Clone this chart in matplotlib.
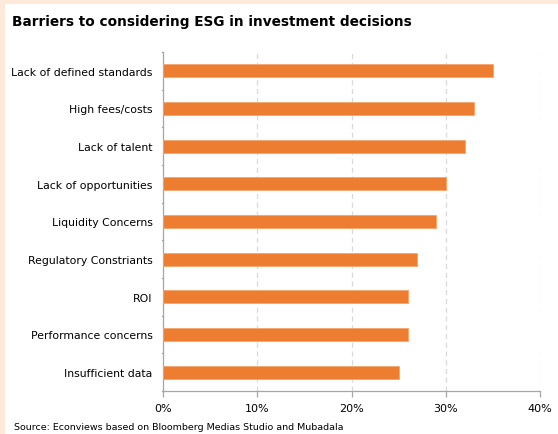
import matplotlib
matplotlib.use("Agg")
import matplotlib.pyplot as plt
from matplotlib.patches import Rectangle
import numpy as np

categories = [
    "Lack of defined standards",
    "High fees/costs",
    "Lack of talent",
    "Lack of opportunities",
    "Liquidity Concerns",
    "Regulatory Constriants",
    "ROI",
    "Performance concerns",
    "Insufficient data",
]
values = [35, 33, 32, 30, 29, 27, 26, 26, 25]
x_ticks = [0, 10, 20, 30, 40]
x_tick_labels = ["0%", "10%", "20%", "30%", "40%"]

title = "Barriers to considering ESG in investment decisions"
source = "Source: Econviews based on Bloomberg Medias Studio and Mubadala"

W, H = 558, 435
fig = plt.figure(figsize=(W / 100, H / 100), dpi=100)
fig.patch.set_facecolor("white")

# peach frame along the top and left edges
fig.patches.append(Rectangle((0, 1 - 5 / H), 1, 5 / H, transform=fig.transFigure,
                             facecolor="#FDE9D9", edgecolor="none", zorder=0))
fig.patches.append(Rectangle((0, 0), 5 / W, 1, transform=fig.transFigure,
                             facecolor="#FDE9D9", edgecolor="none", zorder=0))

left, right, top, bottom = 163, 540, 53, 392
ax = fig.add_axes([left / W, 1 - bottom / H, (right - left) / W, (bottom - top) / H])

n = len(categories)
y = np.arange(n)
ax.barh(y, values, height=0.35, color="#ED7D31", edgecolor="#F4A66E", linewidth=0.6, zorder=3)
ax.set_ylim(n - 0.5, -0.5)
ax.set_xlim(0, 40)

ax.set_yticks(y)
ax.set_yticklabels(categories, fontsize=7.8, family="DejaVu Sans", color="#000000")
ax.tick_params(axis="y", length=0, pad=7.5)
# tick marks between categories
for b in np.arange(-0.5, n, 1.0):
    ax.plot([-0.12, 0], [b, b], color="#A6A6A6", lw=0.9, clip_on=False, zorder=4)

ax.set_xticks(x_ticks)
ax.set_xticklabels(x_tick_labels, fontsize=8, family="DejaVu Sans")
ax.tick_params(axis="x", length=4, color="#A6A6A6", width=0.9, pad=5)

for xv in x_ticks[1:]:
    ax.axvline(xv, color="#D9D9D9", lw=0.9, ls=(0, (4, 3)), zorder=1)

for s in ["top", "right"]:
    ax.spines[s].set_visible(False)
for s in ["left", "bottom"]:
    ax.spines[s].set_color("#A6A6A6")
    ax.spines[s].set_linewidth(0.9)

fig.text(12 / W, 1 - 22 / H, title, fontsize=9.8, fontweight="bold",
         family="DejaVu Sans", va="center", ha="left")
fig.text(14 / W, 1 - 428 / H, source, fontsize=6.8, family="DejaVu Sans",
         va="center", ha="left")

fig.savefig("out.png", dpi=100)
